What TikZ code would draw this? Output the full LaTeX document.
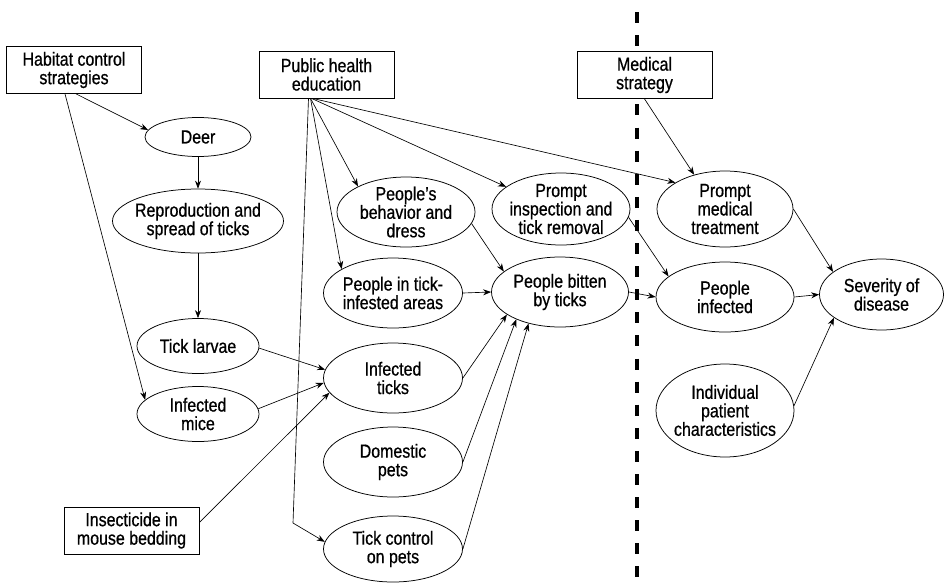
\documentclass[tikz,border=0pt]{standalone}
\usepackage{fontspec}
\setmainfont{Liberation Sans}[FakeStretch=0.84,FakeBold=0.7]
\usetikzlibrary{shapes.geometric,arrows.meta}
\begin{document}
\begin{tikzpicture}[x=1pt,y=-1pt,
  every node/.style={font=\fontsize{19}{18.5}\selectfont, align=center},
  ell/.style 2 args={draw, ellipse, fill=white, line width=0.75pt, inner sep=-8pt, minimum width=#1, minimum height=#2},
  box/.style={draw, rectangle, fill=white, line width=0.75pt, minimum width=135pt, minimum height=47pt, inner sep=0pt},
  arr/.style={-{Stealth[length=8pt,width=6pt]}, line width=0.65pt},
  divider/.style={line width=4pt, dash pattern=on 11pt off 12.1pt}
]
\useasboundingbox (0,0) rectangle (947,584);

\draw[divider] (637,12) -- (637,584);

\node[box] (hab) at (74,70) {Habitat control\\strategies};
\node[box] (pub) at (326.5,74.5) {Public health\\education};
\node[box] (med) at (644.5,75) {Medical\\strategy};
\node[box] (ins) at (131.5,530.5) {Insecticide in\\mouse bedding};

\node[ell={106pt}{39pt}] (deer) at (198,137) {Deer};
\node[ell={171pt}{64pt}] (repro) at (198,221) {Reproduction and\\spread of ticks};
\node[ell={122pt}{55pt}] (larvae) at (198,346) {Tick larvae};
\node[ell={122pt}{55pt}] (mice) at (198,414) {Infected\\mice};
\node[ell={138pt}{70pt}] (behav) at (406,212) {People’s\\behavior and\\dress};
\node[ell={138pt}{72pt}] (insp) at (561,209) {Prompt\\inspection and\\tick removal};
\node[ell={136pt}{76pt}] (treat) at (725,209) {Prompt\\medical\\treatment};
\node[ell={139pt}{70pt}] (areas) at (393,293) {People in tick-\\infested areas};
\node[ell={137pt}{70pt}] (bitten) at (560,292) {People bitten\\by ticks};
\node[ell={138pt}{70pt}] (infd) at (725,297) {People\\infected};
\node[ell={124pt}{71pt}] (sev) at (881.5,294.5) {Severity of\\disease};
\node[ell={139pt}{70pt}] (ticks) at (393,378) {Infected\\ticks};
\node[ell={139pt}{70pt}] (pets) at (393,462) {Domestic\\pets};
\node[ell={139pt}{66pt}] (ctrl) at (393,549) {Tick control\\on pets};
\node[ell={138pt}{93pt}] (indiv) at (725,410.5) {Individual\\patient\\characteristics};

\coordinate (kink) at (293,523);

% habitat control
\draw[arr] ([xshift=2pt]hab.south) -- (deer.172);
\draw[arr] ([xshift=-9pt]hab.south) -- (mice.165);
\draw[arr] (deer.south) -- (repro.north);
\draw[arr] (repro.south) -- (larvae.north);
\draw[arr] (larvae.-2) -- (ticks.173);
\draw[arr] (mice.5) -- (ticks.184);
\draw[arr] ([yshift=8pt]ins.east) -- (ticks.193);

% public health education
\draw[arr] ([xshift=-16pt]pub.south) -- (behav.152);
\draw[arr] ([xshift=-15pt]pub.south) -- (insp.158);
\draw[arr] ([xshift=-14pt]pub.south) -- (treat.152);
\draw[arr] ([xshift=-16pt]pub.south) -- (areas.155);
\draw[arr] ([xshift=-18pt]pub.south) -- (kink) -- (ctrl.174);

% to people bitten
\draw[arr] (behav.-10) -- (bitten.160);
\draw[arr] (areas.east) -- (bitten.west);
\draw[arr] (ticks.east) -- (bitten.203);
\draw[arr] (pets.east) -- (bitten.212);
\draw[arr] (ctrl.east) -- (bitten.225);

% medical side
\draw[arr] (insp.-7) -- (infd.160);
\draw[arr] (med.south) -- (treat.132);
\draw[arr] (bitten.east) -- (infd.west);
\draw[arr] (treat.east) -- (sev.155);
\draw[arr] (infd.east) -- (sev.west);
\draw[arr] (indiv.4) -- (sev.206);
\end{tikzpicture}
\end{document}
